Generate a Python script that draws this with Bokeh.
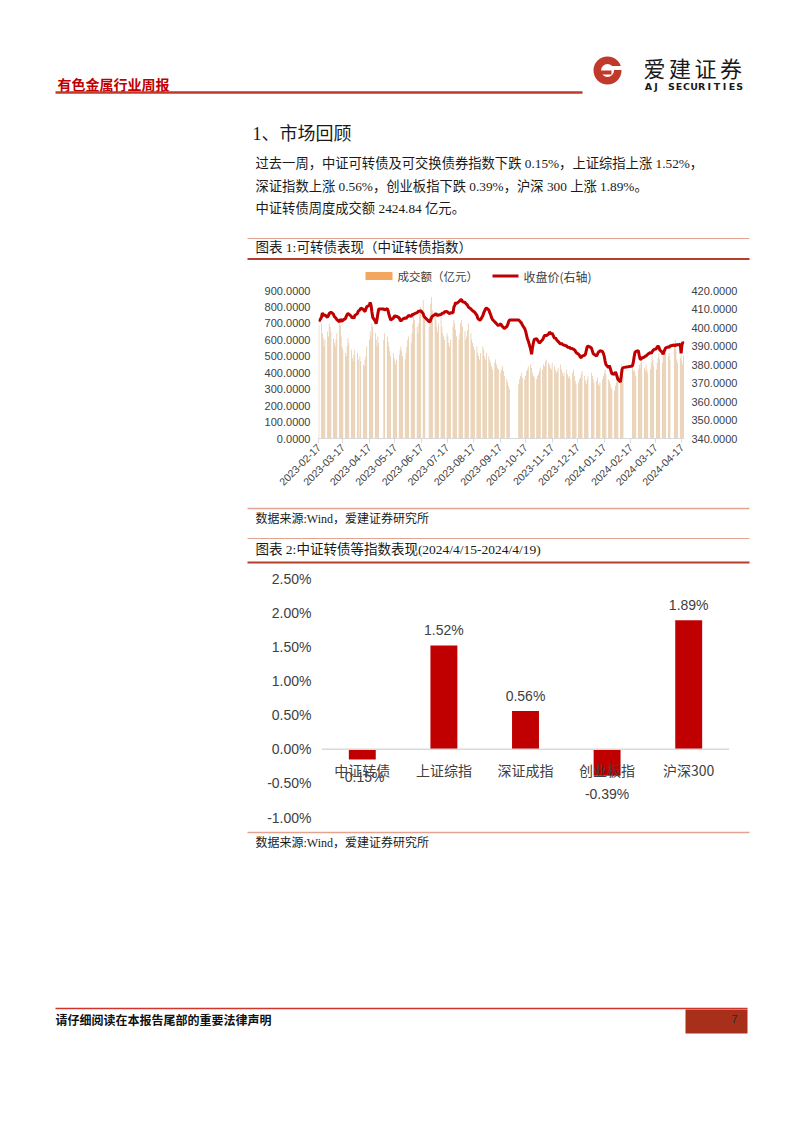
import pandas as pd
from bokeh.plotting import figure
from bokeh.layouts import column
from bokeh.models import (Range1d, LinearAxis, FixedTicker, PrintfTickFormatter,
                          DatetimeTickFormatter, Span, FactorRange)
from bokeh.core.properties import value
from bokeh.embed import file_html
from bokeh.resources import INLINE

# ---------------- data ----------------
holidays = ["2023-04-05", "2023-05-01", "2023-05-02", "2023-05-03", "2023-06-22", "2023-06-23",
            "2023-09-29", "2023-10-02", "2023-10-03", "2023-10-04", "2023-10-05", "2023-10-06",
            "2024-01-01", "2024-02-09", "2024-02-12", "2024-02-13", "2024-02-14", "2024-02-15",
            "2024-02-16", "2024-04-04", "2024-04-05"]

turnover = [
    690, 700, 640, 610, 560, 600, 650, 620,
    700, 680, 650, 610, 580, 560, 600, 640, 700, 690, 620, 560, 540, 520, 500, 560, 610, 580, 540, 490, 470, 510, 540,
    520, 480, 500, 470, 450, 440, 480, 500, 560, 600, 650, 620, 700, 680, 640, 600, 560, 620, 580,
    600, 640, 620, 590, 560, 530, 500, 520, 490, 470, 450, 480, 510, 540, 560, 530, 500, 480, 520, 560,
    600, 620, 580, 640, 700, 760, 720, 680, 640, 700, 760, 800, 840, 780, 720, 680, 750, 820, 860, 780,
    760, 720, 680, 650, 700, 740, 680, 640, 620, 600, 640, 620, 580, 560, 600, 680, 720, 700, 660, 620, 600,
    640, 700, 720, 680, 650, 600, 620, 660, 700, 640, 600, 580, 560, 540, 560, 520, 500, 480, 520, 560, 540, 500, 480,
    520, 500, 480, 460, 440, 420, 460, 480, 450, 430, 420, 400, 420, 440, 410, 380, 360, 340, 320, 300,
    330, 360, 380, 400, 370, 360, 380, 410, 420, 440, 450, 430, 400, 380, 370, 360, 380,
    390, 410, 430, 420, 450, 440, 470, 480, 460, 450, 430, 420, 460, 440, 420, 400, 410, 430, 450, 420, 400, 380,
    400, 420, 390, 370, 380, 360, 400, 420, 380, 350, 330, 340, 360, 370, 390, 410, 380, 350, 330, 360, 380,
    400, 380, 360, 340, 350, 370, 330, 320, 340, 360, 380, 400, 420, 390, 360, 350, 330, 310, 300, 290, 320, 340,
    360, 380, 420, 450, 400, 380, 430, 410, 420, 400, 380, 420, 450, 430, 460,
    470, 430, 410, 450, 420, 400, 420, 460, 500, 480, 440, 420, 460, 490, 520, 480, 460, 500, 540, 560, 520,
    500, 520, 480, 560, 600, 540, 480, 460, 490, 510, 470, 450, 505,
]

close = [
    403.2, 405.5, 407.8, 407.0, 406.5, 406.8, 405.5, 406.3,
    407.5, 408.0, 408.3, 407.2, 406.0, 405.5, 405.0, 404.2, 403.0, 404.5, 403.8, 403.2, 404.0, 404.8, 406.0, 407.0,
    407.5, 407.2, 406.0, 405.2, 405.5, 405.0, 406.5,
    407.5, 408.8, 409.5, 410.5, 409.8, 409.0, 408.7, 410.0, 411.2, 412.0, 413.6, 412.0, 408.5, 405.5, 403.5, 402.0,
    404.5, 407.5, 410.0,
    410.0, 409.5, 410.2, 409.0, 407.0, 405.5, 404.0, 405.0, 405.8, 406.5, 406.0, 406.0, 405.2, 404.0, 403.5, 404.0,
    404.5, 405.2, 404.8, 405.5,
    406.0, 406.5, 406.0, 406.8, 407.2, 407.0, 407.5, 408.0, 408.5, 409.0, 408.7, 409.2, 407.5, 406.0, 405.5, 403.2,
    403.0, 404.5, 405.5, 406.2,
    407.0, 407.5, 406.8, 406.5, 406.8, 407.0, 407.5, 408.0, 407.5, 408.5, 408.7, 408.2, 407.8, 407.5, 408.0, 408.0,
    411.0, 412.0, 413.5, 413.0, 414.0,
    414.5, 415.0, 415.0, 414.0, 413.5, 413.0, 412.5, 412.0, 411.0, 410.0, 409.5, 409.0, 408.7, 408.5, 406.5, 405.0,
    404.5, 404.0, 404.0, 406.5, 408.0, 409.0, 410.0,
    410.5, 409.5, 408.0, 407.0, 405.5, 404.5, 403.0, 402.5, 402.0, 401.5, 401.0, 402.0, 401.0, 400.5, 400.0, 399.5,
    400.5, 401.5, 403.0, 404.0,
    404.0, 403.5, 403.0, 402.5, 401.5, 399.3, 398.0, 396.0, 394.0, 392.9, 388.0, 385.5, 389.0, 391.5, 393.5, 394.0, 393.0,
    392.5, 391.5, 392.0, 393.5, 394.5, 395.5, 396.0, 395.5, 396.5, 397.5, 397.0, 396.5, 397.0, 394.0, 394.5, 393.5,
    393.0, 392.5, 391.0, 391.5, 391.0, 390.5,
    390.5, 390.0, 389.5, 389.0, 389.5, 388.8, 388.5, 388.3, 388.0, 387.5, 386.5, 385.5, 385.0, 384.0, 383.7, 384.5,
    385.0, 385.5, 387.5, 389.5, 390.0,
    389.0, 387.5, 386.0, 385.5, 384.6, 385.5, 386.5, 387.0, 387.4, 387.0, 386.0, 384.5, 382.0, 380.0, 378.3, 379.5,
    378.0, 376.5, 375.0, 374.7, 376.0, 375.0,
    373.5, 372.0, 370.5, 374.0, 377.5, 378.3, 379.2, 381.0, 384.0, 386.5, 387.0, 387.4, 385.0, 383.0, 382.8,
    383.5, 384.0, 384.5, 384.6, 385.0, 385.5, 386.5, 386.0, 386.8, 387.5, 388.0, 388.5, 389.5, 390.0, 389.5, 388.0,
    386.5, 385.5, 387.0, 388.0, 389.0,
    389.5, 389.2, 390.0, 390.5, 390.0, 390.5, 391.0, 390.5, 391.0, 386.0, 390.5, 392.0, 391.5,
]

date_ticks = ["2023-02-17", "2023-03-17", "2023-04-17", "2023-05-17", "2023-06-17", "2023-07-17",
              "2023-08-17", "2023-09-17", "2023-10-17", "2023-11-17", "2023-12-17", "2024-01-17",
              "2024-02-17", "2024-03-17", "2024-04-17"]
left_ticks = [0, 100, 200, 300, 400, 500, 600, 700, 800, 900]
right_ticks = [340, 350, 360, 370, 380, 390, 400, 410, 420]
legend_labels = ["成交额（亿元）", "收盘价(右轴)"]

categories = ["中证转债", "上证综指", "深证成指", "创业板指", "沪深300"]
changes = [-0.15, 1.52, 0.56, -0.39, 1.89]
pct_ticks = [-1.0, -0.5, 0.0, 0.5, 1.0, 1.5, 2.0, 2.5]

# ---------------- helpers ----------------
W = 786
CJK = "Noto Sans CJK SC"
BODY = value("Liberation Serif, Noto Sans CJK SC")
THIN = "#E4A391"
THICK = "#B4402B"
BAR_ORANGE = "#F2A65E"
BAR_TAN = "#E0BC93"
LINE_RED = "#C00000"


def page_fig(top, h):
    f = figure(width=W, height=h, x_range=Range1d(0, W), y_range=Range1d(top + h, top),
               output_backend="svg", toolbar_location=None, min_border=0, frame_align=False)
    f.xaxis.visible = False
    f.yaxis.visible = False
    f.grid.visible = False
    f.outline_line_color = None
    return f


def txt(f, x, y, s, size, font=BODY, color="#1a1a1a", style="normal", align="left"):
    f.text(x=[x], y=[y], text=[s], text_font=font, text_font_size=size, text_color=color,
           text_font_style=style, text_align=align, text_baseline="middle")


def hline(f, x0, x1, y, color, w):
    f.segment(x0=[x0], y0=[y], x1=[x1], y1=[y], line_color=color, line_width=w)


# ---------------- top section (header, text, caption, chart-1 legend) ----------------
TOP_H = 286
top = page_fig(0, TOP_H)
txt(top, 57, 83, "有色金属行业周报", "14px", value(CJK), "#C00000", "bold")
hline(top, 55, 582, 92, "#C0392B", 2.5)
# logo
top.annulus(x=[607], y=[70], inner_radius=6.5, outer_radius=14, fill_color="#C0392B", line_color=None)
top.quad(left=[607], right=[623], top=[65.5], bottom=[69.5], fill_color="white", line_color=None)
top.quad(left=[600], right=[611], top=[70], bottom=[74], fill_color="#C0392B", line_color=None)
for i, ch in enumerate("爱建证券"):
    txt(top, 654 + i * 25.5, 66, ch, "22px", value(CJK), "#1a1a1a", "normal", "center")
for i, ch in enumerate("AJ SECURITIES"):
    if ch != " ":
        txt(top, 648 + i * 7.6, 86, ch, "9.5px", value("DejaVu Sans"), "#1a1a1a", "bold", "center")

txt(top, 252, 133, "1、市场回顾", "18px")
txt(top, 255, 163, "过去一周，中证可转债及可交换债券指数下跌 0.15%，上证综指上涨 1.52%，", "13.3px")
txt(top, 255, 186, "深证指数上涨 0.56%，创业板指下跌 0.39%，沪深 300 上涨 1.89%。", "13.3px")
txt(top, 255, 208, "中证转债周度成交额 2424.84 亿元。", "13.3px")
hline(top, 247, 749, 238, THIN, 1)
txt(top, 255, 247, "图表 1:可转债表现（中证转债指数）", "13.5px")
hline(top, 247, 749, 258.5, THICK, 2)

# chart-1 legend
top.quad(left=[365], right=[392], top=[271.5], bottom=[279.5], fill_color=BAR_ORANGE, line_color=None)
txt(top, 397, 275.5, legend_labels[0], "11.5px", value(CJK), "#404040")
hline(top, 492, 518, 275.5, LINE_RED, 3)
txt(top, 523, 275.5, legend_labels[1], "12px", value(CJK), "#404040")

# ---------------- chart 1 ----------------
days = pd.bdate_range("2023-02-17", "2024-04-19")
days = days[~days.isin(pd.to_datetime(holidays))]
n = min(len(days), len(turnover), len(close))
days = days[:n]
DAY = 86400000

P1_TOP = TOP_H
p1 = figure(width=W, height=505 - P1_TOP, x_axis_type="datetime",
            x_range=Range1d(pd.Timestamp("2023-02-16 12:00"), pd.Timestamp("2024-04-20 00:00")),
            y_range=Range1d(0, 900), output_backend="svg", toolbar_location=None, frame_align=False,
            min_border_left=318, min_border_right=102, min_border_top=290 - P1_TOP, min_border_bottom=67)
p1.extra_y_ranges = {"r": Range1d(340, 420)}
p1.outline_line_color = None
p1.grid.visible = False

p1.vbar(x=days, top=turnover[:n], width=0.72 * DAY, fill_color=BAR_TAN, line_color=None)
p1.line(x=days, y=close[:n], y_range_name="r", line_color=LINE_RED, line_width=3)

tick_ms = [int((pd.Timestamp(d) - pd.Timestamp("1970-01-01")) // pd.Timedelta("1ms")) for d in date_ticks]
xa = p1.xaxis[0]
xa.ticker = FixedTicker(ticks=tick_ms)
fmt = "%Y-%m-%d"
xa.formatter = DatetimeTickFormatter(milliseconds=fmt, seconds=fmt, minsec=fmt, minutes=fmt, hourmin=fmt,
                                     hours=fmt, days=fmt, months=fmt, years=fmt)
xa.major_label_orientation = 0.785398
xa.axis_line_color = "#D9D9D9"
xa.major_tick_line_color = "#D9D9D9"
xa.major_tick_in = 0
xa.major_tick_out = 4
xa.minor_tick_line_color = None
xa.major_label_text_font = "Liberation Sans"
xa.major_label_text_font_size = "10.5px"
xa.major_label_text_color = "#404040"
xa.major_label_standoff = 3

ya = p1.yaxis[0]
ya.ticker = FixedTicker(ticks=left_ticks)
ya.formatter = PrintfTickFormatter(format="%.4f")

ra = LinearAxis(y_range_name="r", ticker=FixedTicker(ticks=right_ticks),
                formatter=PrintfTickFormatter(format="%.4f"))
p1.add_layout(ra, "right")
for a in (ya, ra):
    a.axis_line_color = None
    a.major_tick_line_color = None
    a.minor_tick_line_color = None
    a.major_tick_out = 0
    a.major_tick_in = 0
    a.major_label_text_font = "Liberation Sans"
    a.major_label_text_font_size = "11px"
    a.major_label_text_color = "#404040"
ya.major_label_standoff = 8
ra.major_label_standoff = 7

# ---------------- middle section ----------------
mid = page_fig(505, 61)
hline(mid, 247, 749, 508, THIN, 1.5)
txt(mid, 255, 518, "数据来源:Wind，爱建证券研究所", "12px")
hline(mid, 247, 749, 538, THIN, 1)
txt(mid, 255, 549, "图表 2:中证转债等指数表现(2024/4/15-2024/4/19)", "13.5px")
hline(mid, 247, 749, 562, THICK, 2)

# ---------------- chart 2 ----------------
p2 = figure(width=W, height=264, x_range=FactorRange(factors=categories), y_range=Range1d(-1.0, 2.5),
            output_backend="svg", toolbar_location=None, frame_align=False,
            min_border_left=321, min_border_right=57, min_border_top=12, min_border_bottom=13)
p2.outline_line_color = None
p2.grid.visible = False
p2.xaxis.visible = False
p2.add_layout(Span(location=0, dimension="width", line_color="#D9D9D9", line_width=1.5))
p2.vbar(x=categories, top=changes, bottom=0, width=0.33, fill_color=LINE_RED, line_color=None)

pos_c = [c for c, v in zip(categories, changes) if v >= 0]
pos_v = [v for v in changes if v >= 0]
neg_c = [c for c, v in zip(categories, changes) if v < 0]
neg_v = [v for v in changes if v < 0]
p2.text(x=pos_c, y=pos_v, text=[f"{v:.2f}%" for v in pos_v], text_align="center", text_baseline="bottom",
        y_offset=-7, text_font=value("Liberation Sans"), text_font_size="14px", text_color="#404040")
p2.text(x=neg_c, y=neg_v, text=[f"{v:.2f}%" for v in neg_v], text_align="center", text_baseline="top",
        y_offset=10, text_font=value("Liberation Sans"), text_font_size="14px", text_color="#404040")
p2.text(x=categories, y=[0] * len(categories), text=categories, text_align="center", text_baseline="top",
        y_offset=11, text_font=value(CJK), text_font_size="14px", text_color="#404040")

y2 = p2.yaxis[0]
y2.ticker = FixedTicker(ticks=pct_ticks)
y2.formatter = PrintfTickFormatter(format="%.2f%%")
y2.axis_line_color = None
y2.major_tick_line_color = None
y2.minor_tick_line_color = None
y2.major_tick_out = 0
y2.major_tick_in = 0
y2.major_label_standoff = 10
y2.major_label_text_font = "Liberation Sans"
y2.major_label_text_font_size = "14px"
y2.major_label_text_color = "#404040"

# ---------------- bottom section ----------------
bot = page_fig(830, 295)
hline(bot, 247, 749, 832, THIN, 1.5)
txt(bot, 255, 842, "数据来源:Wind，爱建证券研究所", "12px")
hline(bot, 55, 747, 1008, "#D0342C", 1.5)
bot.quad(left=[685], right=[747], top=[1009], bottom=[1033], fill_color="#A8301A", line_color=None)
txt(bot, 55, 1019, "请仔细阅读在本报告尾部的重要法律声明", "12px", value(CJK), "#111111", "bold")
txt(bot, 731, 1018, "7", "11px", value("Liberation Sans"), "#2a2a2a")

page = column(top, p1, mid, p2, bot, spacing=0)
open("out.html", "w").write(file_html(page, INLINE))
